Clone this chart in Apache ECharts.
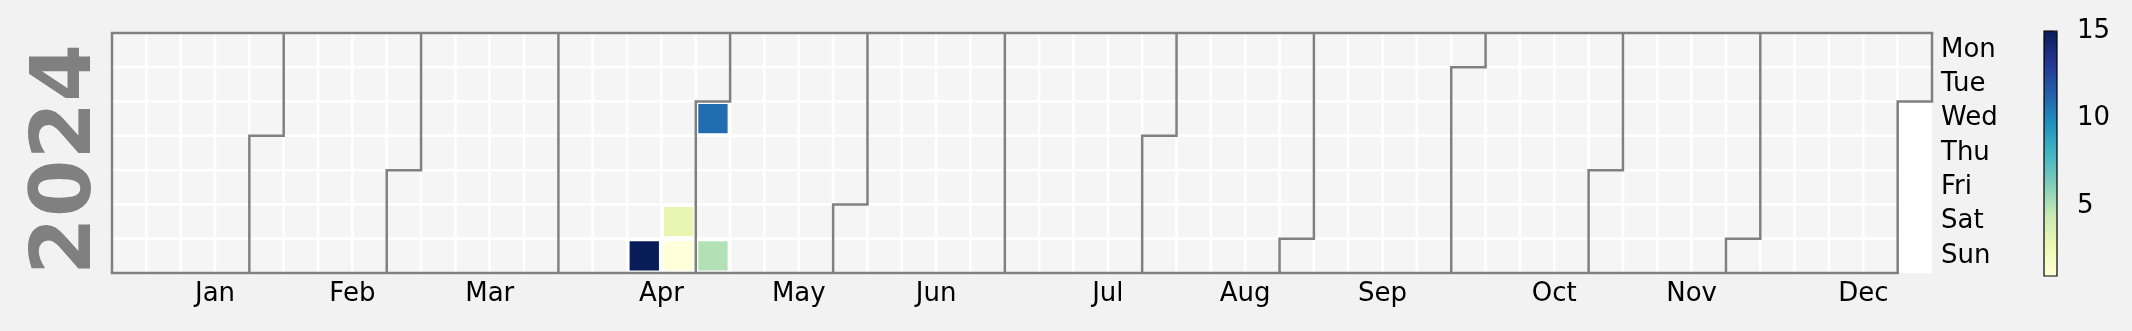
<!DOCTYPE html>
<html>
<head>
<meta charset="utf-8">
<script src="https://cdn.jsdelivr.net/npm/echarts@6/dist/echarts.min.js"></script>
<style>
  html, body { margin: 0; padding: 0; background: #f2f2f2; }
  #chart { width: 2132px; height: 331px; }
</style>
</head>
<body>
<div id="chart"></div>
<script>
// ---- data ----
const year = '2024';
const dates = ['2024-04-21', '2024-04-27', '2024-04-28', '2024-05-01', '2024-05-05'];
const values = [15, 3, 1, 11, 5];
const weekdayNames = ['Sun', 'Mon', 'Tue', 'Wed', 'Thu', 'Fri', 'Sat'];
const monthLabels = ['Jan', 'Feb', 'Mar', 'Apr', 'May', 'Jun', 'Jul', 'Aug', 'Sep', 'Oct', 'Nov', 'Dec'];
const monthTickWeeks = [3, 7, 11, 16, 20, 24, 29, 33, 37, 42, 46, 51];
const colorbarTicks = [5, 10, 15];
const colorMin = 1, colorMax = 15;
const ylgnbu = ['#ffffd9', '#edf8b1', '#c7e9b4', '#7fcdbb', '#41b6c4', '#1d91c0', '#225ea8', '#253494', '#081d58'];

const FONT = 'DejaVu Sans';
const calBox = { left: 112, top: 33, right: 200, bottom: 58 };
const cbBox = { left: 2044, top: 31, width: 13, height: 245 };

const chart = echarts.init(document.getElementById('chart'), null, { renderer: 'canvas' });
const heatData = dates.map((d, i) => [d, values[i]]);

chart.setOption({
  backgroundColor: '#f2f2f2',
  animation: false,
  textStyle: { fontFamily: FONT },
  grid: [
    { left: calBox.left, top: calBox.top, right: calBox.right, bottom: calBox.bottom,
      show: true, backgroundColor: '#ffffff', borderWidth: 0, z: 0 },
    { left: cbBox.left, top: cbBox.top, width: cbBox.width, height: cbBox.height,
      show: true, backgroundColor: 'transparent', borderColor: '#000000', borderWidth: 1.2, z: 10 }
  ],
  xAxis: [
    { gridIndex: 0, type: 'value', min: 0, max: 53,
      axisLine: { show: false }, axisTick: { show: false }, splitLine: { show: false },
      axisLabel: { show: true, customValues: monthTickWeeks, fontSize: 26, color: '#000', fontFamily: FONT, margin: 8,
        formatter: v => { const i = monthTickWeeks.indexOf(v); return i >= 0 ? monthLabels[i] : ''; } } },
    { gridIndex: 1, type: 'value', show: false, min: 0, max: 1 }
  ],
  yAxis: [
    { gridIndex: 0, type: 'value', show: false, min: 0, max: 7 },
    { gridIndex: 1, type: 'value', min: colorMin, max: colorMax, position: 'right',
      axisLine: { show: false }, splitLine: { show: false },
      axisTick: { show: true, customValues: colorbarTicks, length: 9, lineStyle: { color: '#000', width: 1.2 } },
      axisLabel: { show: true, customValues: colorbarTicks, fontSize: 26, color: '#000', fontFamily: FONT, margin: 20 } }
  ],
  visualMap: {
    type: 'continuous', min: colorMin, max: colorMax, calculable: false, show: true,
    orient: 'vertical', left: cbBox.left, top: cbBox.top, itemWidth: cbBox.width, itemHeight: cbBox.height,
    padding: 0, text: null, showLabel: false,
    inRange: { color: ylgnbu }, seriesIndex: 0
  },
  calendar: {
    left: calBox.left, top: calBox.top, right: calBox.right, bottom: calBox.bottom,
    range: year, orient: 'horizontal', cellSize: ['auto', 'auto'],
    itemStyle: { color: '#f5f5f5', borderColor: '#ffffff', borderWidth: 2.5 },
    splitLine: { show: true, lineStyle: { color: '#808080', width: 2.5 } },
    dayLabel: { show: true, firstDay: 1, position: 'end', nameMap: weekdayNames, fontSize: 26, color: '#000', fontFamily: FONT, margin: 9 },
    monthLabel: { show: false },
    yearLabel: { show: true, position: 'left', margin: 2, fontSize: 83, fontWeight: 'bold', color: '#808080', fontFamily: FONT, padding: [0, 13, 0, 0] }
  },
  series: [{
    type: 'heatmap', coordinateSystem: 'calendar', data: heatData,
    itemStyle: { borderColor: '#ffffff', borderWidth: 2.5 }
  }]
});
</script>
</body>
</html>
